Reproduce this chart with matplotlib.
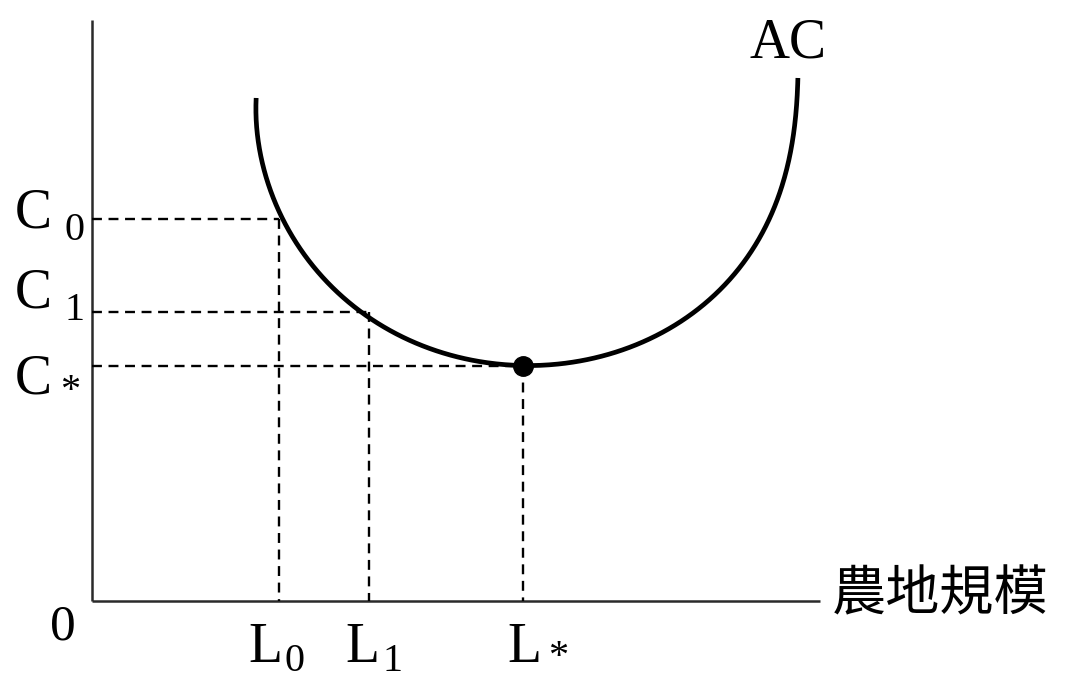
import numpy as np
import matplotlib
matplotlib.use("Agg")
import matplotlib.pyplot as plt

# --- data (units: pixels relative to the origin of the axes) ---
curve_x = [164, 166, 173, 181, 190, 205, 225, 248, 275, 298, 321, 355, 388, 431,
           471, 505, 538, 588, 621, 648, 668, 685, 696, 703, 706]
curve_y = [503, 471, 438, 404, 381, 354, 328, 304, 286, 273, 261, 249, 241, 235,
           239, 248, 259, 278, 301, 331, 364, 401, 441, 491, 523]
level_names = ["C0", "C1", "C*"]
level_costs = [382, 289, 235]
level_sizes = [187, 277, 431]
min_point = (431, 235)
x_axis_len = 728
y_axis_len = 581
x_label = "農地規模"
curve_label = "AC"


def smooth_curve(xs, ys, deg=6, n=600):
    """Least-squares smooth parametric fit through the read points."""
    P = np.column_stack([xs, ys]).astype(float)
    d = np.r_[0, np.cumsum(np.linalg.norm(np.diff(P, axis=0), axis=1))]
    t = d / d[-1]
    w = np.ones(len(t))
    w[0] = w[-1] = 3.0
    w[list(xs).index(min_point[0])] = 5.0
    px = np.polyfit(t, P[:, 0], deg, w=w)
    py = np.polyfit(t, P[:, 1], deg, w=w)
    tt = np.linspace(0, 1, n)
    return np.polyval(px, tt), np.polyval(py, tt)


fig = plt.figure(figsize=(10.7, 6.78), dpi=100)
ax = fig.add_axes([0, 0, 1, 1])
ax.set_xlim(-92, 1070 - 92)
ax.set_ylim(601 - 678, 601)
ax.axis("off")

axis_color = "#2a2a2a"
ax.plot([0, 0], [0, y_axis_len], color=axis_color, lw=1.8, solid_capstyle="butt")
ax.plot([0, x_axis_len], [0, 0], color=axis_color, lw=1.8, solid_capstyle="butt")

# dashed guide lines
for c, l in zip(level_costs, level_sizes):
    ax.plot([0, l], [c, c], color="black", lw=1.7, dashes=(4.2, 2.8))
    ax.plot([l, l], [c, 0], color="black", lw=1.7, dashes=(4.2, 2.8))

sx, sy = smooth_curve(curve_x, curve_y)
ax.plot(sx, sy, color="black", lw=3.4, solid_capstyle="butt")
ax.plot([min_point[0]], [min_point[1]], "o", color="black", ms=14)

serif = ["Liberation Serif", "DejaVu Serif"]
big = 40
small = 29

# C labels
subs = ["0", "1", "*"]
c_base = [374, 294, 208]
for s, yb in zip(subs, c_base):
    ax.text(-77, yb, "C", fontsize=big, family=serif, ha="left", va="baseline")
    if s == "*":
        ax.text(-32, yb + 1, s, fontsize=small, family=serif, ha="left", va="center")
    else:
        ax.text(-27, yb - 13, s, fontsize=small, family=serif, ha="left", va="baseline")

# L labels
l_left = [156, 253, 415]
for s, xl in zip(subs, l_left):
    ax.text(xl, -61, "L", fontsize=big, family=serif, ha="left", va="baseline")
    if s == "*":
        ax.text(xl + 41, -57, s, fontsize=small, family=serif, ha="left", va="center")
    else:
        ax.text(xl + 37, -70, s, fontsize=small, family=serif, ha="left", va="baseline")

ax.text(-42, -39, "0", fontsize=37, family=serif, ha="left", va="baseline")
ax.text(658, 544, curve_label, fontsize=big, family=serif, ha="left", va="baseline")
ax.text(740, 6, x_label, fontsize=39, family=["Noto Sans CJK TC", "DejaVu Sans"],
        ha="left", va="center", fontweight="light")

fig.savefig("out.png", dpi=100)
